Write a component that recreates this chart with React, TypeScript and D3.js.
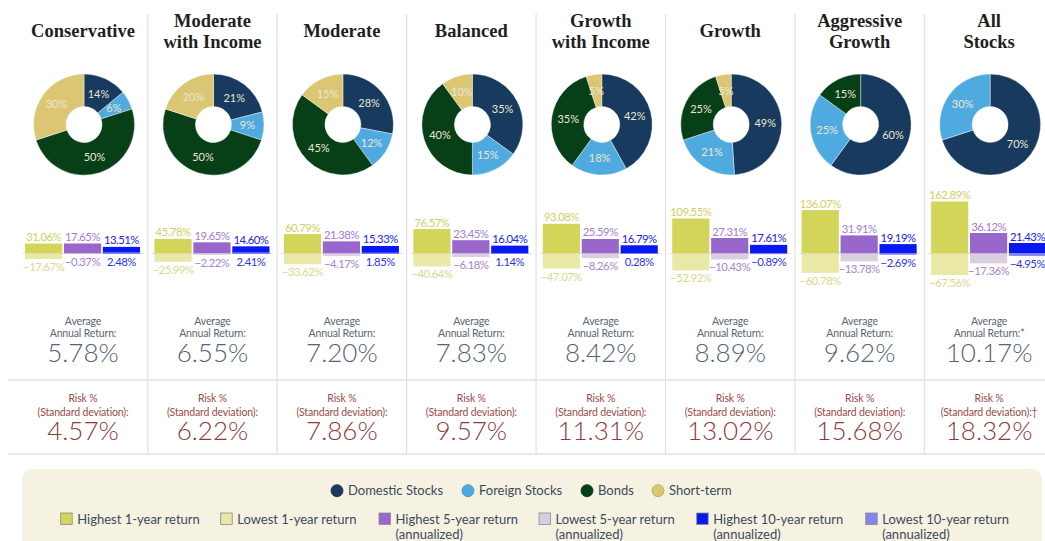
import React from "react";
import * as d3 from "d3";

// portfolio columns
const titles = [
  ["Conservative"],
  ["Moderate", "with Income"],
  ["Moderate"],
  ["Balanced"],
  ["Growth", "with Income"],
  ["Growth"],
  ["Aggressive", "Growth"],
  ["All", "Stocks"],
];

// asset mix (%)
const domestic = [14, 21, 28, 35, 42, 49, 60, 70];
const foreign = [6, 9, 12, 15, 18, 21, 25, 30];
const bonds = [50, 50, 45, 40, 35, 25, 15, 0];
const shortTerm = [30, 20, 15, 10, 5, 5, 0, 0];

// returns (%)
const high1 = [31.06, 45.78, 60.79, 76.57, 93.08, 109.55, 136.07, 162.89];
const low1 = [-17.67, -25.99, -33.62, -40.64, -47.07, -52.92, -60.78, -67.56];
const high5 = [17.65, 19.65, 21.38, 23.45, 25.59, 27.31, 31.91, 36.12];
const low5 = [-0.37, -2.22, -4.17, -6.18, -8.26, -10.43, -13.78, -17.36];
const high10 = [13.51, 14.6, 15.33, 16.04, 16.79, 17.61, 19.19, 21.43];
const low10 = [2.48, 2.41, 1.85, 1.14, 0.28, -0.89, -2.69, -4.95];

const avgReturn = [5.78, 6.55, 7.2, 7.83, 8.42, 8.89, 9.62, 10.17];
const riskStd = [4.57, 6.22, 7.86, 9.57, 11.31, 13.02, 15.68, 18.32];

const assetNames = ["Domestic Stocks", "Foreign Stocks", "Bonds", "Short-term"];
const assetColors = ["#173a5e", "#4fabdf", "#073f17", "#dbc674"];
const assetStrokes = ["#0e2a46", "#3a8fc0", "#042a0e", "#b9a555"];

const barKeys = ["1", "5", "10"];
const highColors = ["#d3d45a", "#9966cc", "#0818f0"];
const lowColors = ["#e9e8a6", "#d9cde0", "#8484f2"];
const highText = ["#cfcf66", "#a57ad6", "#1a22ee"];
const lowText = ["#d9d98e", "#a883d0", "#2a35ee"];

const legendBars = [
  ["Highest 1-year return"],
  ["Lowest 1-year return"],
  ["Highest 5-year return", "(annualized)"],
  ["Lowest 5-year return", "(annualized)"],
  ["Highest 10-year return", "(annualized)"],
  ["Lowest 10-year return", "(annualized)"],
];
const legendBarColors = ["#d3d45a", "#e9e8a6", "#9966cc", "#d9cde0", "#0818f0", "#8484f2"];

const W = 1045;
const H = 541;
const sans = "Lato, 'Noto Sans', sans-serif";
const fmt = (v: number) => (v < 0 ? "\u2212" + Math.abs(v).toFixed(2) : v.toFixed(2)) + "%";

export default function App() {
  const n = titles.length;
  const colX = d3.scaleLinear().domain([0, n]).range([18.3, 18.3 + 129.44 * n]);
  const center = (i: number) => colX(i + 0.5);

  const baseY = 253.5;
  const scales = [
    d3.scaleLinear().domain([0, 162.89]).range([0, 52]),
    d3.scaleLinear().domain([0, 36.12]).range([0, 20.5]),
    d3.scaleLinear().domain([0, 21.43]).range([0, 10.5]),
  ];
  const highs = [high1, high5, high10];
  const lows = [low1, low5, low10];

  const pie = d3.pie<number>().sort(null).value((d) => d);
  const arc = d3.arc<d3.PieArcDatum<number>>().innerRadius(18).outerRadius(50.5);
  const labelArc = d3.arc<d3.PieArcDatum<number>>().innerRadius(34).outerRadius(34);

  const legendRow1X = [337, 468, 587, 658];
  const legendRow2X = [66.7, 226.7, 385, 545, 702.7, 871.7];

  return (
    <div style={{ position: "absolute", left: 0, top: 0 }}>
      <svg width={W} height={H} style={{ display: "block", background: "#fff" }}>
        {/* grid lines */}
        {d3.range(1, n).map((k) => (
          <line key={k} x1={colX(k)} x2={colX(k)} y1={14} y2={454} stroke="#e1e1e1" strokeWidth={1.2} />
        ))}
        <line x1={8} x2={W} y1={380} y2={380} stroke="#e1e1e1" strokeWidth={1.5} />
        <line x1={8} x2={W} y1={454} y2={454} stroke="#e1e1e1" strokeWidth={1.5} />

        {titles.map((lines, i) => {
          const cx = center(i);
          const pieCx = cx + 1;
          const mix = [domestic[i], foreign[i], bonds[i], shortTerm[i]];
          const arcs = pie(mix);
          const band = d3.scaleBand<string>().domain(barKeys).range([cx - 58, cx + 57]).paddingInner(0.045);
          return (
            <g key={i}>
              {lines.map((t, j) => (
                <text
                  key={j}
                  x={cx}
                  y={lines.length === 1 ? 37 : 27 + j * 20.5}
                  textAnchor="middle"
                  fontFamily="'Liberation Serif', serif"
                  fontWeight="bold"
                  fontSize={18.5}
                  fill="#1f1f1f"
                >
                  {t}
                </text>
              ))}

              <g transform={`translate(${pieCx},124.5)`}>
                {arcs.map((a, k) =>
                  a.data > 0 ? (
                    <path key={k} d={arc(a) || ""} fill={assetColors[k]} stroke="#fff" strokeWidth={0.4} />
                  ) : null
                )}
                {arcs.map((a, k) => {
                  if (a.data <= 0) return null;
                  const [lx, ly] = labelArc.centroid(a);
                  return (
                    <text
                      key={"l" + k}
                      x={lx}
                      y={ly}
                      dy="0.35em"
                      textAnchor="middle"
                      fontFamily={sans}
                      fontSize={11}
                      fill="#ebe7d2"
                    >
                      {a.data}%
                    </text>
                  );
                })}
              </g>

              <line x1={colX(i) + 4} x2={colX(i + 1) - 4} y1={baseY} y2={baseY} stroke="#dedede" strokeWidth={1} />

              {barKeys.map((key, s) => {
                const x0 = band(key) || 0;
                const bw = band.bandwidth();
                const hi = highs[s][i];
                const lo = lows[s][i];
                const sc = scales[s];
                const hiH = sc(hi);
                const loH = sc(Math.abs(lo));
                const loTop = lo < 0 ? baseY : baseY - loH;
                const loLabelY = lo < 0 ? baseY + loH + 12 : baseY + 12.5;
                return (
                  <g key={key}>
                    <rect x={x0} y={baseY - hiH} width={bw} height={hiH} fill={highColors[s]} />
                    <rect x={x0} y={loTop} width={bw} height={Math.max(loH, 0.6)} fill={lowColors[s]} />
                    <text
                      x={x0 + bw / 2}
                      y={baseY - hiH - 2.5}
                      textAnchor="middle"
                      fontFamily={sans}
                      fontSize={11.3}
                      letterSpacing={-0.5}
                      fill={highText[s]}
                    >
                      {fmt(hi)}
                    </text>
                    <text
                      x={x0 + bw / 2}
                      y={loLabelY}
                      textAnchor="middle"
                      fontFamily={sans}
                      fontSize={11.3}
                      letterSpacing={-0.5}
                      fill={lowText[s]}
                    >
                      {fmt(lo)}
                    </text>
                  </g>
                );
              })}

              <text x={cx} y={325} textAnchor="middle" fontFamily={sans} fontSize={10.5} letterSpacing={-0.15} fill="#5b6572">
                Average
              </text>
              <text x={cx} y={337} textAnchor="middle" fontFamily={sans} fontSize={10.5} letterSpacing={-0.15} fill="#5b6572">
                {i === n - 1 ? "Annual Return:*" : "Annual Return:"}
              </text>
              <text x={cx} y={362} textAnchor="middle" fontFamily={sans} fontWeight={300} fontSize={26} fill="#52637a">
                {avgReturn[i].toFixed(2)}%
              </text>

              <text x={cx} y={402} textAnchor="middle" fontFamily={sans} fontSize={10.5} letterSpacing={-0.15} fill="#9a4a4a">
                Risk %
              </text>
              <text x={cx} y={416} textAnchor="middle" fontFamily={sans} fontSize={10.5} letterSpacing={-0.15} fill="#9a4a4a">
                {i === n - 1 ? "(Standard deviation):\u2020" : "(Standard deviation):"}
              </text>
              <text x={cx} y={440} textAnchor="middle" fontFamily={sans} fontWeight={300} fontSize={26} fill="#8e3a3a">
                {riskStd[i].toFixed(2)}%
              </text>
            </g>
          );
        })}

        {/* legend */}
        <rect x={22} y={469} width={1020} height={100} rx={11} fill="#f6f2e2" />
        {assetNames.map((name, k) => (
          <g key={name}>
            <circle cx={legendRow1X[k]} cy={490.7} r={6} fill={assetColors[k]} stroke={assetStrokes[k]} strokeWidth={0.8} />
            <text x={legendRow1X[k] + 11} y={495} fontFamily={sans} fontSize={13} fill="#3b4a5c">
              {name}
            </text>
          </g>
        ))}
        {legendBars.map((lines, k) => (
          <g key={k}>
            <rect
              x={legendRow2X[k] - 6}
              y={513}
              width={11.5}
              height={11.5}
              fill={legendBarColors[k]}
              stroke="#8a8a8a"
              strokeWidth={0.8}
            />
            {lines.map((t, j) => (
              <text key={j} x={legendRow2X[k] + 10.5} y={523.5 + j * 15} fontFamily={sans} fontSize={13} fill="#3b4a5c">
                {t}
              </text>
            ))}
          </g>
        ))}
      </svg>
    </div>
  );
}
